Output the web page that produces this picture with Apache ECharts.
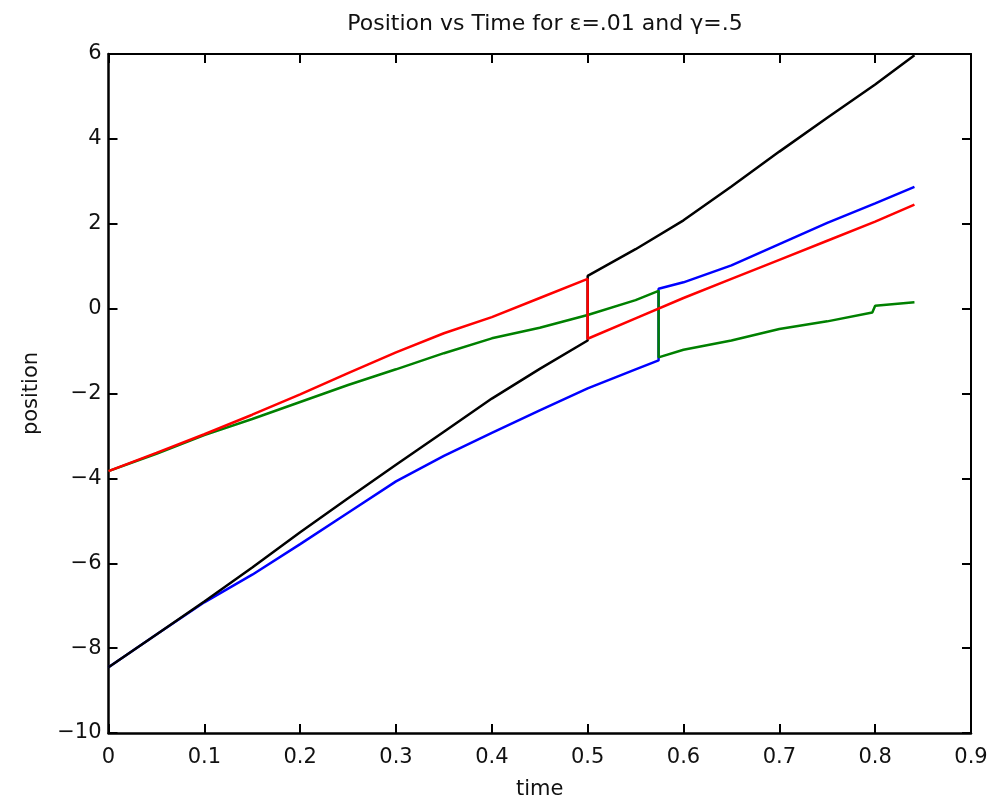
<!DOCTYPE html>
<html>
<head>
<meta charset="utf-8">
<script src="https://cdn.jsdelivr.net/npm/echarts@6/dist/echarts.min.js"></script>
<style>html,body{margin:0;padding:0;background:#fff}#c{width:995px;height:805px}</style>
</head>
<body>
<div id="c"></div>
<script>
var titleText = 'Position vs Time for \u03b5=.01 and \u03b3=.5';
var xTicks = [0, 0.1, 0.2, 0.3, 0.4, 0.5, 0.6, 0.7, 0.8, 0.9];
var yTicks = [-10, -8, -6, -4, -2, 0, 2, 4, 6];

var blackT = [0, 0.05, 0.1, 0.15, 0.2, 0.25, 0.3, 0.35, 0.4, 0.45, 0.5, 0.5, 0.55, 0.6, 0.65, 0.7, 0.75, 0.8, 0.841];
var blackY = [-8.45, -7.68, -6.9, -6.1, -5.27, -4.47, -3.68, -2.9, -2.12, -1.42, -0.75, 0.77, 1.4, 2.08, 2.88, 3.7, 4.5, 5.28, 5.97];

var blueT = [0, 0.05, 0.1, 0.15, 0.2, 0.25, 0.3, 0.35, 0.4, 0.45, 0.5, 0.55, 0.574, 0.574, 0.6, 0.65, 0.7, 0.75, 0.8, 0.841];
var blueY = [-8.45, -7.68, -6.92, -6.27, -5.55, -4.81, -4.07, -3.47, -2.93, -2.4, -1.88, -1.43, -1.22, 0.47, 0.62, 1.02, 1.52, 2.02, 2.48, 2.87];

var redT = [0, 0.05, 0.1, 0.15, 0.2, 0.25, 0.3, 0.35, 0.4, 0.45, 0.5, 0.5, 0.55, 0.6, 0.65, 0.7, 0.75, 0.8, 0.841];
var redY = [-3.83, -3.4, -2.96, -2.5, -2.02, -1.52, -1.03, -0.58, -0.2, 0.25, 0.70, -0.71, -0.23, 0.25, 0.7, 1.15, 1.6, 2.05, 2.45];

var greenT = [0, 0.05, 0.1, 0.15, 0.2, 0.25, 0.3, 0.35, 0.4, 0.45, 0.5, 0.55, 0.574, 0.574, 0.6, 0.65, 0.7, 0.75, 0.797, 0.8, 0.841];
var greenY = [-3.83, -3.42, -2.98, -2.6, -2.2, -1.8, -1.43, -1.05, -0.7, -0.45, -0.15, 0.2, 0.42, -1.15, -0.97, -0.75, -0.48, -0.3, -0.09, 0.07, 0.15];

function pairs(t, y) { return t.map(function (v, i) { return [v, y[i]]; }); }

var font = 'DejaVu Sans, sans-serif';
var chart = echarts.init(document.getElementById('c'));

function lineSeries(t, y, color) {
  return {
    type: 'line', data: pairs(t, y), showSymbol: false, symbol: 'none',
    lineStyle: { color: color, width: 2.5 }, silent: true, animation: false,
    xAxisIndex: 0, yAxisIndex: 0
  };
}

var tickStyle = { show: true, inside: true, length: 9, lineStyle: { color: '#000', width: 2 } };

chart.setOption({
  animation: false,
  backgroundColor: '#fff',
  title: {
    text: titleText, left: 540, top: 8, textAlign: 'center',
    textStyle: { fontFamily: font, fontSize: 22, fontWeight: 'normal', color: '#111' }
  },
  grid: { left: 108.5, right: 24, top: 54, bottom: 71, containLabel: false },
  xAxis: [{
    type: 'value', min: 0, max: 0.9, interval: 0.1, position: 'bottom',
    name: 'time', nameLocation: 'middle', nameGap: 46,
    nameTextStyle: { fontFamily: font, fontSize: 21, color: '#111' },
    axisLine: { show: true, onZero: false, lineStyle: { color: '#000', width: 2.5 } },
    axisTick: tickStyle,
    axisLabel: { fontFamily: font, fontSize: 21, color: '#111', margin: 14,
      formatter: function (v) { return String(+v.toFixed(1)); } },
    splitLine: { show: false }
  }, {
    type: 'value', min: 0, max: 0.9, interval: 0.1, position: 'top',
    axisLine: { show: true, onZero: false, lineStyle: { color: '#000', width: 2 } },
    axisTick: tickStyle,
    axisLabel: { show: false }, splitLine: { show: false }
  }],
  yAxis: [{
    type: 'value', min: -10, max: 6, interval: 2, position: 'left',
    name: 'position', nameLocation: 'middle', nameGap: 66, nameRotate: 90,
    nameTextStyle: { fontFamily: font, fontSize: 21, color: '#111' },
    axisLine: { show: true, onZero: false, lineStyle: { color: '#000', width: 2.5 } },
    axisTick: tickStyle,
    axisLabel: { fontFamily: font, fontSize: 21, color: '#111', margin: 7,
      formatter: function (v) { return String(v).replace('-', '\u2212'); } },
    splitLine: { show: false }
  }, {
    type: 'value', min: -10, max: 6, interval: 2, position: 'right',
    axisLine: { show: true, onZero: false, lineStyle: { color: '#000', width: 2 } },
    axisTick: tickStyle,
    axisLabel: { show: false }, splitLine: { show: false }
  }],
  series: [
    lineSeries(blueT, blueY, '#0000ff'),
    lineSeries(blackT, blackY, '#000000'),
    lineSeries(greenT, greenY, '#008000'),
    lineSeries(redT, redY, '#ff0000')
  ]
});
</script>
</body>
</html>
